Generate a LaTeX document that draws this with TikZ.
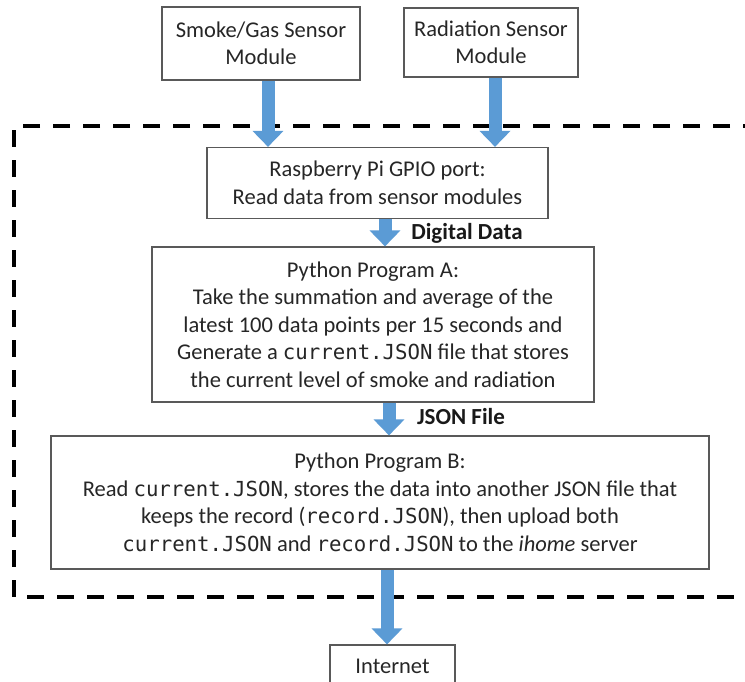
\documentclass[tikz,border=0pt]{standalone}
\usepackage{fontspec}
\setmainfont{Carlito}
\setmonofont[Scale=0.92]{DejaVu Sans Mono}
\usetikzlibrary{arrows.meta}

\definecolor{azul}{RGB}{91,155,213}

\begin{document}
\begin{tikzpicture}[x=1pt, y=-1pt,
    caja/.style={draw=black!65, line width=1.2pt, align=center, text=black!85,
        font=\fontsize{22.5}{27.5}\selectfont, inner sep=0pt},
    flecha/.style={-{Triangle[width=30pt, length=16pt]}, line width=13pt, draw=azul},
    etiqueta/.style={font=\fontsize{23}{25}\selectfont\bfseries, text=black!90}]

            % Marco de la imagen
            \clip (0,0) rectangle (745,681);
            \fill[white] (0,0) rectangle (745,681);

            % Zona de la Raspberry Pi
            \draw[line width=4pt, dash pattern=on 17pt off 13pt] (760,126) -- (14,126) -- (14,597) -- (760,597);

            % Modulos de sensores
            \node[caja, minimum width=198pt, minimum height=73pt] (smoke) at (261,43.5) {Smoke/Gas Sensor\\Module};
            \node[caja, minimum width=174pt, minimum height=69pt] (radiation) at (491,42.5) {Radiation Sensor\\Module};

            % Puerto GPIO y programas
            \node[caja, minimum width=341pt, minimum height=71pt] (gpio) at (377.5,183) {Raspberry Pi GPIO port:\\Read data from sensor modules};
            \node[caja, minimum width=442pt, minimum height=155pt] (progA) at (373,324.5) {Python Program A:\\Take the summation and average of the\\latest 100 data points per 15 seconds and\\Generate a \texttt{current.JSON} file that stores\\the current level of smoke and radiation};
            \node[caja, minimum width=658pt, minimum height=133pt] (progB) at (380,502.5) {Python Program B:\\Read \texttt{current.JSON}, stores the data into another JSON file that\\keeps the record (\texttt{record.JSON}), then upload both\\\texttt{current.JSON} and \texttt{record.JSON} to the \textit{ihome} server};
            \node[caja, minimum width=125pt, minimum height=50pt, text depth=0pt] (internet) at (392.5,670) {\raisebox{8pt}{Internet}};

            % Flechas
            \draw[flecha] ([xshift=7pt]smoke.south) -- ([xshift=7pt]smoke.south |- gpio.north);
            \draw[flecha] ([xshift=4pt]radiation.south) -- ([xshift=4pt]radiation.south |- gpio.north);
            \draw[flecha] ([xshift=7.5pt]gpio.south) -- ([xshift=7.5pt]gpio.south |- progA.north);
            \draw[flecha] ([xshift=16pt]progA.south) -- ([xshift=16pt]progA.south |- progB.north);
            \draw[flecha] ([xshift=7pt]progB.south) -- ([xshift=7pt]progB.south |- internet.north);

            % Etiquetas
            \node[etiqueta] (digital) at (467,233) {Digital Data};
            \node[etiqueta] (json) at (461,417) {JSON File};
        \end{tikzpicture}
\end{document}
